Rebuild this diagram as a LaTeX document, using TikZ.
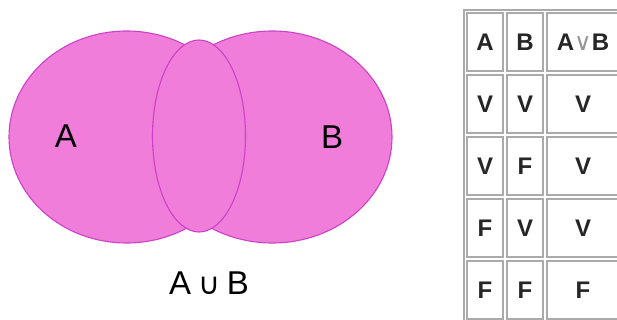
\documentclass[tikz,border=0pt]{standalone}
\usepackage{fontspec}
\setmainfont{Liberation Sans}
\newfontfamily\symfont{DejaVu Sans}
\definecolor{setfill}{RGB}{240,125,218}
\definecolor{setline}{RGB}{205,65,200}
\definecolor{gridgray}{RGB}{170,170,170}
\definecolor{opgray}{RGB}{150,150,150}

\begin{document}
\begin{tikzpicture}[x=1pt, y=-1pt, line width=1.1pt,
    setshape/.style={draw=setline, fill=setfill},
    setlabel/.style={font=\fontsize{33}{33}\selectfont},
    cell/.style={draw=gridgray, line width=1.3pt, minimum height=58pt,
        font=\fontsize{24}{24}\selectfont\bfseries, text=black!85, inner sep=0pt},
    narrow/.style={cell, minimum width=36pt},
    wide/.style={cell, minimum width=72pt}]
    \clip (0,0) rectangle (617,320);
    \fill[white] (0,0) rectangle (617,320);

    % diagramma di Venn
    \draw[setshape] (126.6,137) ellipse [x radius=117.6, y radius=106];
    \draw[setshape] (272.4,137) ellipse [x radius=119.6, y radius=106];
    \draw[setshape] (199,136) ellipse [x radius=46.5, y radius=96];
    \node[setlabel] (lblA) at (66,136) {A};
    \node[setlabel] (lblB) at (332,137) {B};
    \node[setlabel] (union) at (209,283)
        {A\hspace{7pt}{\symfont\fontsize{30}{30}\selectfont ∪}\hspace{7pt}B};

    % tavola di verità
    \draw[gridgray, line width=1.3pt] (464,10) rectangle (640,340);
    \node[narrow] (h1) at (485,42) {A};
    \node[narrow] (h2) at (525,42) {B};
    \node[wide] (h3) at (583,42) {A{\color{opgray}\symfont\mdseries ∨}B};

    \node[narrow] (a1) at (485,104) {V};
    \node[narrow] (b1) at (525,104) {V};
    \node[wide] (r1) at (583,104) {V};

    \node[narrow] (a2) at (485,166) {V};
    \node[narrow] (b2) at (525,166) {F};
    \node[wide] (r2) at (583,166) {V};

    \node[narrow] (a3) at (485,228) {F};
    \node[narrow] (b3) at (525,228) {V};
    \node[wide] (r3) at (583,228) {V};

    \node[narrow] (a4) at (485,290) {F};
    \node[narrow] (b4) at (525,290) {F};
    \node[wide] (r4) at (583,290) {F};
\end{tikzpicture}
\end{document}
